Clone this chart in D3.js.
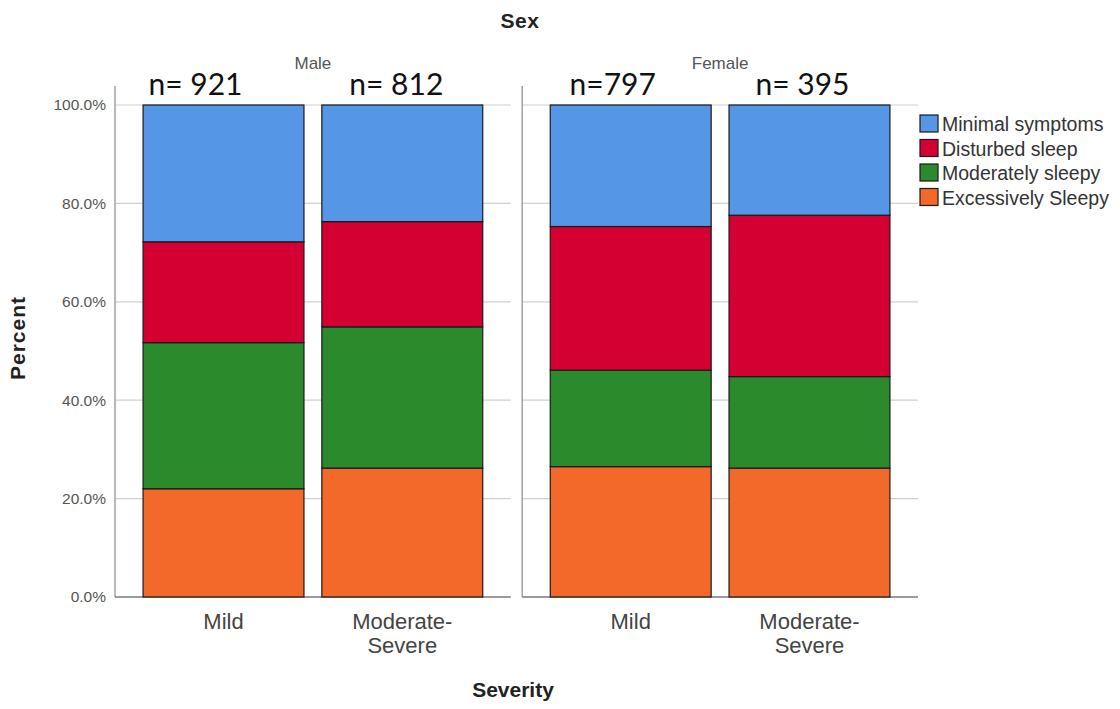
<!DOCTYPE html>
<html><head><meta charset="utf-8">
<script src="https://cdn.jsdelivr.net/npm/d3@7"></script>
<style>body{margin:0;background:#fff}svg{display:block}</style>
</head><body>
<script>
const sexes = ["Male", "Female"];
const severities = ["Mild", "Moderate-Severe"];
const severityLabels = [["Mild"], ["Moderate-", "Severe"]];
const categories = ["Minimal symptoms", "Disturbed sleep", "Moderately sleepy", "Excessively Sleepy"];
const colors = ["#5596e6", "#d50032", "#2a8a2c", "#f2692a"];
// stacked from bottom: Excessively, Moderately, Disturbed, Minimal (percent)
const excessivelySleepy = [22.0, 26.2, 26.5, 26.2];
const moderatelySleepy  = [29.7, 28.7, 19.6, 18.6];
const disturbedSleep    = [20.5, 21.4, 29.2, 32.8];
const minimalSymptoms   = [27.8, 23.7, 24.7, 22.4];
const nLabels = ["n= 921", "n= 812", "n=797", "n= 395"];
const nLabelShift = [-28, -6, -18, -7];
const yTicks = [0, 20, 40, 60, 80, 100];

const W = 1120, H = 709;
const svg = d3.select("body").append("svg").attr("width", W).attr("height", H);
const font = "'Liberation Sans', Arial, sans-serif";

const y = d3.scaleLinear().domain([0, 100]).range([597, 105]);
const xPanel = d3.scaleBand().domain(sexes).range([115, 918]).paddingInner(0.028);
const xBar = d3.scaleBand().domain(severities).range([0, xPanel.bandwidth()]).paddingInner(0.1).paddingOuter(0.157);

const rows = [];
sexes.forEach((s, i) => severities.forEach((v, j) => {
  const k = i * 2 + j;
  rows.push({sex: s, sev: v, k,
    "Excessively Sleepy": excessivelySleepy[k],
    "Moderately sleepy": moderatelySleepy[k],
    "Disturbed sleep": disturbedSleep[k],
    "Minimal symptoms": minimalSymptoms[k]});
}));
const stackKeys = categories.slice().reverse();
const stacked = d3.stack().keys(stackKeys)(rows);
const colorOf = d3.scaleOrdinal().domain(categories).range(colors);

// Title
svg.append("text").attr("x", 520).attr("y", 28).attr("text-anchor", "middle")
  .attr("font-family", font).attr("font-weight", "bold").attr("font-size", 21).attr("letter-spacing", 0.6)
  .attr("fill", "#222").text("Sex");

sexes.forEach(s => {
  const g = svg.append("g").attr("transform", `translate(${xPanel(s)},0)`);
  const pw = xPanel.bandwidth();
  g.selectAll("line.grid").data(yTicks.filter(t => t > 0)).join("line")
    .attr("x1", 0).attr("x2", pw).attr("y1", d => y(d)).attr("y2", d => y(d))
    .attr("stroke", "#d0d0d0").attr("stroke-width", 1.2);
  g.append("line").attr("x1", 0).attr("x2", 0).attr("y1", 86).attr("y2", y(0))
    .attr("stroke", "#9a9a9a").attr("stroke-width", 1.4);
  g.append("line").attr("x1", 0).attr("x2", pw).attr("y1", y(0)).attr("y2", y(0))
    .attr("stroke", "#7a7a7a").attr("stroke-width", 1.4);
  g.append("text").attr("x", pw / 2).attr("y", 69).attr("text-anchor", "middle")
    .attr("font-family", font).attr("font-size", 17).attr("fill", "#555").text(s);
});

// y axis ticks
const yAxis = d3.axisLeft(y).tickValues(yTicks).tickSize(0).tickPadding(9).tickFormat(d => d.toFixed(1) + "%");
const ga = svg.append("g").attr("transform", `translate(${xPanel("Male")},0)`).call(yAxis);
ga.select(".domain").remove();
ga.selectAll("text").attr("font-family", font).attr("font-size", 15.5).attr("fill", "#555");

// bars
stacked.forEach(layer => {
  svg.append("g").selectAll("rect").data(layer).join("rect")
    .attr("x", d => xPanel(d.data.sex) + xBar(d.data.sev))
    .attr("width", xBar.bandwidth())
    .attr("y", d => y(d[1]))
    .attr("height", d => y(d[0]) - y(d[1]))
    .attr("fill", colorOf(layer.key))
    .attr("stroke", "#1a1a1a").attr("stroke-width", 1.2);
});

// n labels
rows.forEach(r => {
  svg.append("text")
    .attr("x", xPanel(r.sex) + xBar(r.sev) + xBar.bandwidth() / 2 + nLabelShift[r.k])
    .attr("y", 95).attr("text-anchor", "middle")
    .attr("font-family", "Lato, 'Open Sans', sans-serif").attr("font-size", 30).attr("fill", "#111")
    .text(nLabels[r.k]);
});

// category labels
rows.forEach(r => {
  const lines = severityLabels[severities.indexOf(r.sev)];
  const t = svg.append("text").attr("text-anchor", "middle")
    .attr("font-family", font).attr("font-size", 22).attr("fill", "#444");
  lines.forEach((l, i) => t.append("tspan")
    .attr("x", xPanel(r.sex) + xBar(r.sev) + xBar.bandwidth() / 2)
    .attr("y", 629 + i * 23.5).text(l));
});

// axis titles
svg.append("text").attr("x", 513).attr("y", 697).attr("text-anchor", "middle")
  .attr("font-family", font).attr("font-weight", "bold").attr("font-size", 21).attr("fill", "#222").text("Severity");
svg.append("text").attr("transform", "translate(25,338) rotate(-90)").attr("text-anchor", "middle")
  .attr("font-family", font).attr("font-weight", "bold").attr("font-size", 21).attr("letter-spacing", 1)
  .attr("fill", "#222").text("Percent");

// legend
const lg = svg.append("g").attr("transform", "translate(920,115)");
categories.forEach((c, i) => {
  const row = lg.append("g").attr("transform", `translate(0,${i * 24.5})`);
  row.append("rect").attr("x", 0).attr("y", 0).attr("width", 18).attr("height", 17)
    .attr("fill", colorOf(c)).attr("stroke", "#1a1a1a").attr("stroke-width", 1.2);
  row.append("text").attr("x", 22).attr("y", 16).attr("font-family", font)
    .attr("font-size", 19.5).attr("fill", "#333").text(c);
});
</script>
</body></html>
